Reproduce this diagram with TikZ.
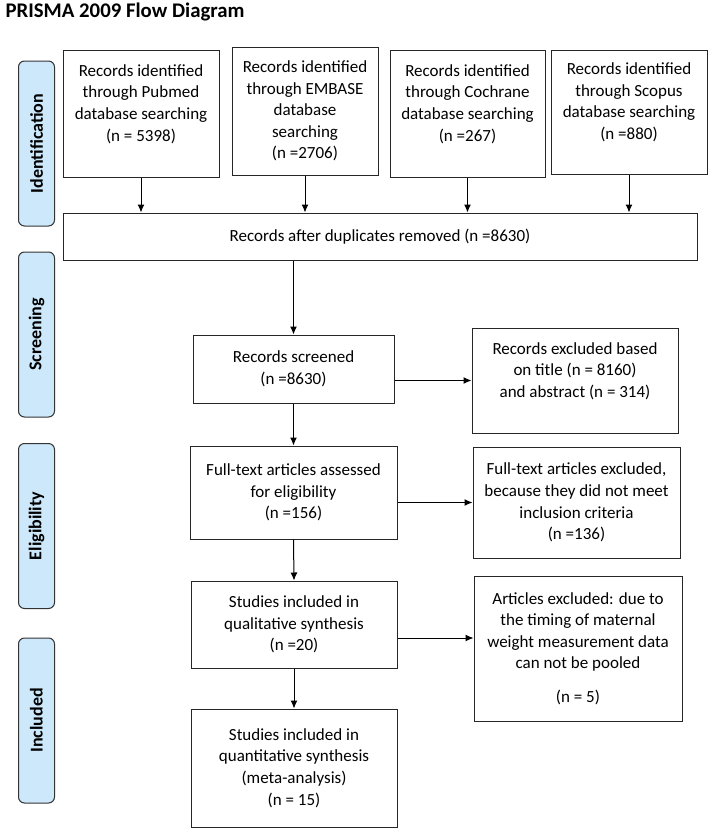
\documentclass[tikz,border=0pt]{standalone}
\usepackage{fontspec}
\setmainfont{Carlito}
\usetikzlibrary{arrows.meta}

\definecolor{phaseblue}{RGB}{204,232,250}

\tikzset{
  box/.style={draw=black!85, line width=1pt, align=center, inner sep=2pt,
    font=\fontsize{17}{21.6}\selectfont},
  phase/.style={draw=black!80, line width=1pt, fill=phaseblue, rounded corners=6pt,
    rotate=90, minimum width=165pt, minimum height=36pt, inner sep=0pt,
    font=\fontsize{18}{20}\selectfont\bfseries},
  arr/.style={line width=1pt, -{Latex[length=8pt,width=7pt]}}
}

\begin{document}
\begin{tikzpicture}[x=1pt,y=-1pt]
    \useasboundingbox (0,0) rectangle (709,828);

    \node[anchor=base west, font=\fontsize{20.8}{24}\selectfont\bfseries] (title) at (2,17) {PRISMA 2009 Flow Diagram};

    \node[phase] (ident) at (36.5,143.5) {Identification};
    \node[phase] (screening) at (36.5,334.5) {Screening};
    \node[phase] (elig) at (36.5,526) {Eligibility};
    \node[phase] (incl) at (36.5,720.5) {Included};

    \node[box, minimum width=156pt, minimum height=127pt] (pub) at (141,113.5)
      {Records identified\\ through Pubmed\\ database searching\\ (n = 5398)\\ \mbox{}};
    \node[box, minimum width=146pt, minimum height=128pt] (emb) at (305,111)
      {Records identified\\ through EMBASE\\ database\\ searching\\ (n =2706)};
    \node[box, minimum width=155pt, minimum height=127pt] (coch) at (467.5,113.5)
      {Records identified\\ through Cochrane\\ database searching\\ (n =267)\\ \mbox{}};
    \node[box, minimum width=156pt, minimum height=124pt] (scop) at (629,112)
      {Records identified\\ through Scopus\\ database searching\\ (n =880)\\ \mbox{}};

    \node[box, minimum width=634pt, minimum height=47pt] (dup) at (380,236.5)
      {Records after duplicates removed (n =8630)};

    \draw[arr] (pub.south) -- (pub.south |- dup.north);
    \draw[arr] (emb.south) -- (emb.south |- dup.north);
    \draw[arr] (coch.south) -- (coch.south |- dup.north);
    \draw[arr] (scop.south) -- (scop.south |- dup.north);

    \node[box, minimum width=201pt, minimum height=68pt] (screen) at (293.5,369)
      {Records screened\\ (n =8630)};
    \node[box, minimum width=206pt, minimum height=105pt] (recexcl) at (575,380.5)
      {Records excluded based\\ on title (n = 8160)\\ and abstract (n = 314)\\ \mbox{}};

    \node[box, minimum width=207pt, minimum height=93pt] (full) at (293.5,492.5)
      {Full-text articles assessed\\ for eligibility\\ (n =156)};
    \node[box, minimum width=207pt, minimum height=111pt] (fullexcl) at (576.5,502.5)
      {Full-text articles excluded,\\ because they did not meet\\ inclusion criteria\\ (n =136)};

    \node[box, minimum width=206pt, minimum height=87pt] (qual) at (294,624.5)
      {Studies included in\\ qualitative synthesis\\ (n =20)};
    \node[box, minimum width=208pt, minimum height=145pt] (artexcl) at (578,648.5)
      {Articles excluded: due to\\ the timing of maternal\\ weight measurement data\\ can not be pooled\\[12pt] (n = 5)};

    \node[box, minimum width=206pt, minimum height=118pt] (quant) at (294,768)
      {Studies included in\\ quantitative synthesis\\ (meta-analysis)\\ (n = 15)};

    \draw[arr] (screen |- dup.south) -- (screen.north);
    \draw[arr] (screen.south) -- (full.north);
    \draw[arr] (full.south) -- (qual.north);
    \draw[arr] (qual.south) -- (quant.north);

    \draw[arr] (screen.east |- recexcl.west) -- (recexcl.west);
    \draw[arr] (full.east |- fullexcl.west) -- (fullexcl.west);
    \draw[arr] (qual.east |- 0,638) -- (artexcl.west |- 0,638);
\end{tikzpicture}
\end{document}
